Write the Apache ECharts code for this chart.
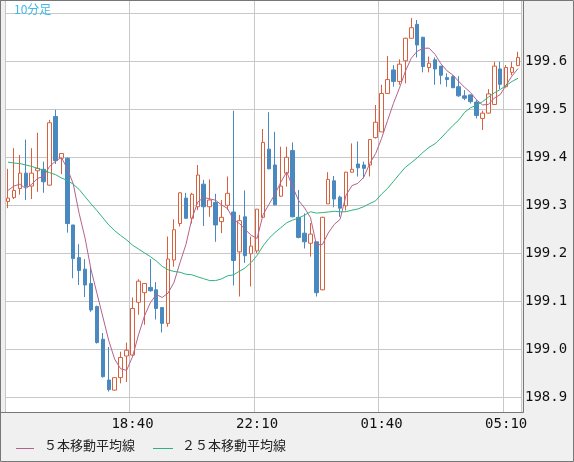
<!DOCTYPE html>
<html><head><meta charset="utf-8">
<script src="https://cdn.jsdelivr.net/npm/echarts@6/dist/echarts.min.js"></script>
<style>html,body{margin:0;padding:0;background:#f0f0f0}#c{width:574px;height:462px}</style>
</head><body><div id="c"></div>
<script>
// time labels every 10 minutes starting 15:10
var times = [];
(function(){var m=15*60+10;for(var i=0;i<87;i++){var t=(m+i*10)%1440;times.push(String(Math.floor(t/60)).padStart(2,'0')+':'+String(t%60).padStart(2,'0'));}})();
var opens  = [199.308,199.316,199.335,199.367,199.340,199.372,199.375,199.342,199.485,199.398,199.398,199.259,199.191,199.167,199.137,199.089,199.021,198.936,198.915,198.941,198.986,198.988,199.098,199.118,199.129,199.124,199.087,199.054,199.186,199.262,199.315,199.273,199.297,199.344,199.297,199.306,199.266,199.300,199.286,199.203,199.276,199.199,199.205,199.275,199.417,199.384,199.319,199.367,199.414,199.275,199.242,199.221,199.224,199.124,199.303,199.351,199.317,199.299,199.369,199.386,199.384,199.384,199.441,199.453,199.533,199.582,199.558,199.601,199.648,199.677,199.650,199.587,199.603,199.590,199.566,199.568,199.547,199.528,199.530,199.515,199.481,199.492,199.510,199.584,199.547,199.577,199.591];
var closes = [199.315,199.331,199.367,199.339,199.367,199.377,199.349,199.472,199.393,199.408,199.262,199.189,199.164,199.134,199.082,199.014,198.943,198.916,198.941,198.983,198.998,199.085,199.142,199.137,199.122,199.085,199.054,199.188,199.249,199.326,199.273,199.323,199.363,199.297,199.311,199.259,199.275,199.325,199.185,199.268,199.195,199.215,199.292,199.431,199.376,199.301,199.340,199.400,199.276,199.233,199.224,199.240,199.118,199.275,199.354,199.313,199.294,199.369,199.375,199.378,199.377,199.437,199.473,199.533,199.562,199.558,199.594,199.648,199.670,199.634,199.589,199.596,199.584,199.571,199.562,199.545,199.528,199.523,199.516,199.487,199.492,199.532,199.590,199.552,199.587,199.587,199.608];
var highs  = [199.376,199.419,199.405,199.437,199.419,199.451,199.391,199.478,199.499,199.409,199.400,199.259,199.219,199.188,199.171,199.091,199.034,199.005,198.941,198.995,199.014,199.108,199.146,199.138,199.188,199.140,199.088,199.235,199.271,199.327,199.326,199.326,199.384,199.353,199.354,199.324,199.311,199.360,199.497,199.280,199.331,199.235,199.292,199.459,199.494,199.453,199.422,199.422,199.431,199.332,199.283,199.263,199.224,199.276,199.369,199.361,199.320,199.370,199.429,199.433,199.391,199.438,199.509,199.551,199.611,199.592,199.604,199.649,199.690,199.686,199.651,199.610,199.608,199.590,199.575,199.571,199.569,199.540,199.531,199.519,199.497,199.542,199.599,199.599,199.592,199.599,199.620];
var lows   = [199.294,199.313,199.322,199.311,199.313,199.328,199.326,199.341,199.386,199.365,199.243,199.148,199.134,199.109,199.078,199.012,198.941,198.912,198.914,198.929,198.932,198.985,199.072,199.051,199.120,199.062,199.035,199.047,199.172,199.256,199.272,199.262,199.290,199.257,199.276,199.224,199.242,199.290,199.133,199.110,199.180,199.131,199.200,199.274,199.375,199.300,199.318,199.339,199.275,199.231,199.210,199.193,199.110,199.123,199.303,199.296,199.276,199.289,199.368,199.360,199.356,199.360,199.439,199.453,199.532,199.547,199.551,199.554,199.648,199.608,199.577,199.577,199.551,199.552,199.547,199.544,199.526,199.519,199.512,199.481,199.457,199.491,199.510,199.542,199.545,199.571,199.590];
// moving average values before enough bars exist
var ma5Head  = [199.331,199.340,199.344,199.335];
var ma25Head = [199.390,199.388,199.387,199.384,199.381,199.377,199.373,199.368,199.364,199.357,199.352,199.344,199.333,199.318,199.303,199.289,199.274,199.259,199.247,199.237,199.228,199.217,199.209,199.201];
var yTicks = [198.9,199.0,199.1,199.2,199.3,199.4,199.5,199.6,199.7];

function ma(n, head){var r=[];for(var i=0;i<closes.length;i++){if(i<n-1){r.push(head[i]);continue;}var s=0;for(var j=i-n+1;j<=i;j++)s+=closes[j];r.push(+(s/n).toFixed(4));}return r;}
var kdata = opens.map(function(o,i){return [o,closes[i],lows[i],highs[i]];});
var UP='#d9603c', DN='#4a89bf';
var mono='"DejaVu Sans Mono", monospace';
var chart = echarts.init(document.getElementById('c'));
chart.setOption({
  animation:false,
  backgroundColor:'#f0f0f0',
  grid:{left:5,right:53,top:1,bottom:50,backgroundColor:'#fff',show:true,borderWidth:0},
  xAxis:{type:'category',data:times,boundaryGap:true,
    axisLine:{show:false},axisTick:{show:false},
    axisLabel:{interval:function(i){return i%21===0&&i>0;},color:'#111',fontFamily:mono,fontSize:14,margin:5},
    splitLine:{show:true,interval:function(i){return i%21===0;},lineStyle:{color:'#c8c8c8',width:1}}},
  yAxis:{type:'value',position:'right',min:198.8694,max:199.7256,scale:true,
    axisLine:{show:false},axisTick:{show:false,customValues:yTicks},
    axisLabel:{customValues:yTicks.slice(0,8),color:'#111',fontFamily:mono,fontSize:14,margin:4,formatter:function(v){return v.toFixed(1);}},
    splitLine:{show:true,lineStyle:{color:'#c8c8c8',width:1}}},
  series:[
    {type:'candlestick',data:kdata,barWidth:4,
     itemStyle:{color:'#fff',color0:DN,borderColor:UP,borderColor0:DN,borderWidth:1}},
    {type:'line',data:ma(5,ma5Head),symbol:'none',lineStyle:{color:'#b5628c',width:1}},
    {type:'line',data:ma(25,ma25Head),symbol:'none',lineStyle:{color:'#2eb37c',width:1}}
  ],
  graphic:[
    {type:'rect',shape:{x:0.5,y:0.5,width:523,height:412},style:{fill:'none',stroke:'#777',lineWidth:1},silent:true,z:100},
    {type:'rect',shape:{x:0.5,y:0.5,width:573,height:461},style:{fill:'none',stroke:'#777',lineWidth:1},silent:true,z:100},
    {type:'text',left:14,top:3,style:{text:'10分足',fill:'#3fb8ea',font:'12px "Noto Sans CJK JP"'},z:100},
    {type:'line',shape:{x1:16,y1:448.5,x2:34,y2:448.5},style:{stroke:'#b5628c',lineWidth:1},z:100},
    {type:'text',left:44,top:439,style:{text:'５本移動平均線',fill:'#222',font:'13px "Noto Sans CJK JP"'},z:100},
    {type:'line',shape:{x1:153,y1:448.5,x2:173,y2:448.5},style:{stroke:'#2eb37c',lineWidth:1},z:100},
    {type:'text',left:182,top:439,style:{text:'２５本移動平均線',fill:'#222',font:'13px "Noto Sans CJK JP"'},z:100}
  ]
});
</script></body></html>
